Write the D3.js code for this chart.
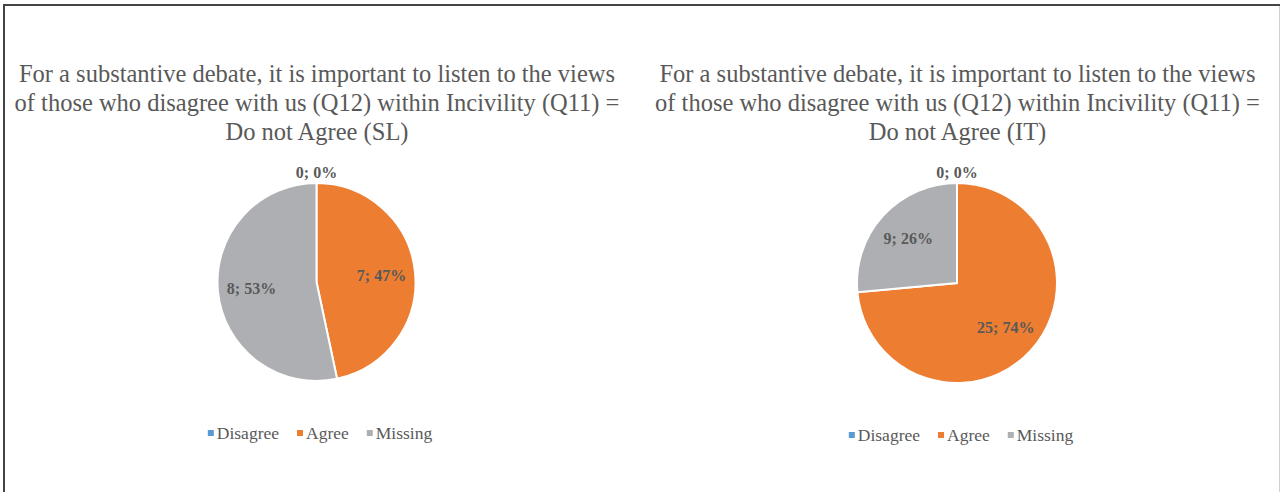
<!DOCTYPE html>
<html>
<head>
<meta charset="utf-8">
<script src="https://cdn.jsdelivr.net/npm/d3@7"></script>
<style>
  body { margin: 0; background: #fff; }
  svg { display: block; }
</style>
</head>
<body>
<svg id="chart" width="1280" height="492"></svg>
<script>
// data
const categories = ["Disagree", "Agree", "Missing"];
const colors = ["#5b9bd5", "#ed7d31", "#aeafb3"];
const panelNames = ["SL", "IT"];
const slValues = [0, 7, 8];
const itValues = [0, 25, 9];
const titleLines = [
  "For a substantive debate, it is important to listen to the views",
  "of those who disagree with us (Q12) within Incivility (Q11) =",
  "Do not Agree"
];

const svg = d3.select("#chart");
const font = "'Liberation Serif', 'Times New Roman', serif";

// outer frame
svg.append("line").attr("x1", 3).attr("x2", 1280).attr("y1", 5).attr("y2", 5)
  .attr("stroke", "#444").attr("stroke-width", 2);
svg.append("line").attr("x1", 4).attr("x2", 4).attr("y1", 4).attr("y2", 492)
  .attr("stroke", "#444").attr("stroke-width", 2);
svg.append("line").attr("x1", 1279.5).attr("x2", 1279.5).attr("y1", 6).attr("y2", 492)
  .attr("stroke", "#d0d0d0").attr("stroke-width", 1);

const color = d3.scaleOrdinal().domain(categories).range(colors);

const panels = [
  { name: panelNames[0], values: slValues, cx: 316.5, cy: 282, r: 99, legendY: 433, legendCx: 320 },
  { name: panelNames[1], values: itValues, cx: 957, cy: 283, r: 100, legendY: 435, legendCx: 961 }
];

panels.forEach(p => {
  const g = svg.append("g");

  // title
  const title = g.append("text")
    .attr("text-anchor", "middle")
    .attr("font-family", font)
    .attr("font-size", 24.5)
    .attr("fill", "#595959");
  titleLines.forEach((line, i) => {
    title.append("tspan")
      .attr("x", p.cx + 0.5)
      .attr("y", 82 + i * 29)
      .text(i === titleLines.length - 1 ? `${line} (${p.name})` : line);
  });

  const data = categories.map((c, i) => ({ cat: c, value: p.values[i] }));
  const total = d3.sum(data, d => d.value);

  const pie = d3.pie().sort(null).value(d => d.value);
  const arcs = pie(data);
  const arc = d3.arc().innerRadius(0).outerRadius(p.r);
  const labelArc = d3.arc().innerRadius(p.r * 0.66).outerRadius(p.r * 0.66);

  const pg = g.append("g").attr("transform", `translate(${p.cx},${p.cy})`);

  pg.selectAll("path")
    .data(arcs)
    .join("path")
    .attr("d", arc)
    .attr("fill", d => color(d.data.cat))
    .attr("stroke", "#fff")
    .attr("stroke-width", 2);

  // data labels
  pg.selectAll("text.lbl")
    .data(arcs)
    .join("text")
    .attr("class", "lbl")
    .attr("text-anchor", "middle")
    .attr("dominant-baseline", "central")
    .attr("font-family", font)
    .attr("font-size", 16)
    .attr("font-weight", "bold")
    .attr("fill", "#595959")
    .attr("transform", d => {
      if (d.value === 0) return `translate(0,${-p.r - 11})`;
      const [x, y] = labelArc.centroid(d);
      return `translate(${x},${y})`;
    })
    .text(d => `${d.value}; ${Math.round(d.value / total * 100)}%`);

  // legend: marker, text, then gap; centred on legendCx
  const lg = g.append("g").attr("transform", `translate(0,${p.legendY})`);
  const items = categories.map(c => {
    const item = lg.append("g");
    item.append("rect")
      .attr("x", 0).attr("y", -3).attr("width", 6).attr("height", 6)
      .attr("fill", color(c));
    const t = item.append("text")
      .attr("x", 9).attr("y", 0)
      .attr("dominant-baseline", "central")
      .attr("font-family", font)
      .attr("font-size", 17.5)
      .attr("fill", "#595959")
      .text(c);
    return { item, w: 9 + t.node().getComputedTextLength() };
  });
  const gap = 18;
  const totalW = d3.sum(items, d => d.w) + gap * (items.length - 1);
  let x0 = p.legendCx - totalW / 2;
  items.forEach(d => {
    d.item.attr("transform", `translate(${x0},0)`);
    x0 += d.w + gap;
  });
});
</script>
</body>
</html>
